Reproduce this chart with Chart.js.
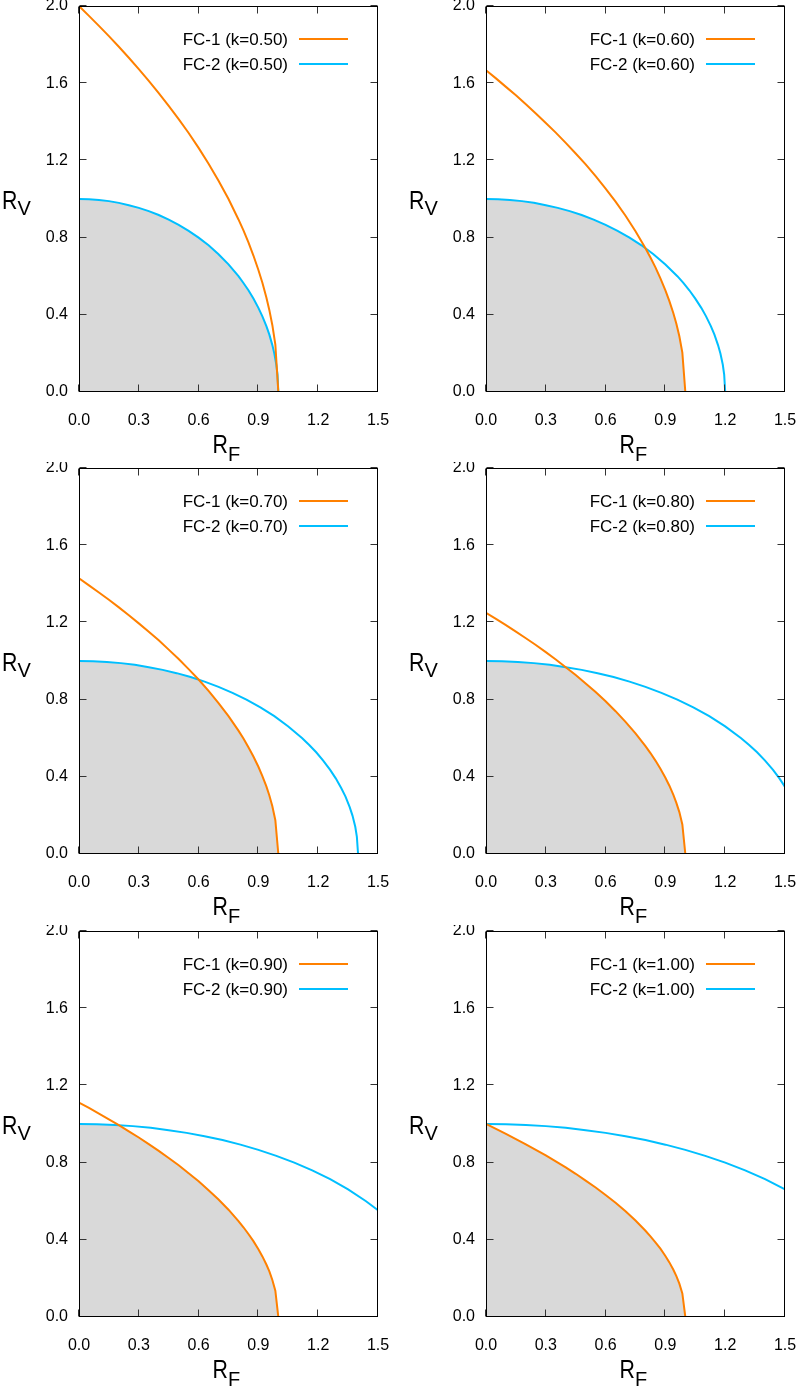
<!DOCTYPE html>
<html><head><meta charset="utf-8">
<script src="https://cdn.jsdelivr.net/npm/chart.js@4.4.1/dist/chart.umd.min.js"></script>
<style>
html,body{margin:0;padding:0;background:#fff;width:800px;height:1389px;overflow:hidden}
.p{position:absolute;width:400px;height:462px}
canvas{display:block}
</style></head><body>
<div class="p" style="left:0;top:0"><canvas id="c0" width="400" height="462"></canvas></div>
<div class="p" style="left:407px;top:0"><canvas id="c1" width="400" height="462"></canvas></div>
<div class="p" style="left:0;top:462px"><canvas id="c2" width="400" height="462"></canvas></div>
<div class="p" style="left:407px;top:462px"><canvas id="c3" width="400" height="462"></canvas></div>
<div class="p" style="left:0;top:925px"><canvas id="c4" width="400" height="462"></canvas></div>
<div class="p" style="left:407px;top:925px"><canvas id="c5" width="400" height="462"></canvas></div>
<script>
// ---- data ----
const kLabels = ['0.50','0.60','0.70','0.80','0.90','1.00'];
const xTicks = [0, 0.3, 0.6, 0.9, 1.2, 1.5];
const yTicks = [0, 0.4, 0.8, 1.2, 1.6, 2.0];
const xTickLabels = ['0.0','0.3','0.6','0.9','1.2','1.5'];
const yTickLabels = ['0.0','0.4','0.8','1.2','1.6','2.0'];

// FC-1 curves (shared R_F sample points)
const fc1X = [0,0.05,0.1,0.15,0.2,0.25,0.3,0.35,0.4,0.45,0.5,0.55,0.6,0.65,0.7,0.75,0.8,0.825,0.85,0.875,0.9,0.92,0.94,0.955,0.97,0.985,1.0];
const fc1Y_k050 = [2.000,1.949,1.897,1.844,1.789,1.732,1.673,1.612,1.549,1.483,1.414,1.342,1.265,1.183,1.095,1.000,0.894,0.837,0.775,0.707,0.632,0.566,0.490,0.424,0.346,0.245,0];
const fc1Y_k060 = [1.667,1.625,1.581,1.537,1.491,1.443,1.394,1.344,1.291,1.236,1.179,1.118,1.054,0.986,0.913,0.833,0.745,0.697,0.646,0.589,0.527,0.471,0.408,0.354,0.289,0.204,0];
const fc1Y_k070 = [1.429,1.392,1.355,1.317,1.278,1.237,1.195,1.152,1.107,1.059,1.010,0.958,0.904,0.845,0.782,0.714,0.639,0.598,0.553,0.505,0.452,0.404,0.350,0.303,0.247,0.175,0];
const fc1Y_k080 = [1.250,1.218,1.186,1.152,1.118,1.083,1.046,1.008,0.968,0.927,0.884,0.839,0.791,0.740,0.685,0.625,0.559,0.523,0.484,0.442,0.395,0.354,0.306,0.265,0.217,0.153,0];
const fc1Y_k090 = [1.111,1.083,1.054,1.024,0.994,0.962,0.930,0.896,0.861,0.824,0.786,0.745,0.703,0.657,0.609,0.556,0.497,0.465,0.430,0.393,0.351,0.314,0.272,0.236,0.192,0.136,0];
const fc1Y_k100 = [1.000,0.975,0.949,0.922,0.894,0.866,0.837,0.806,0.775,0.742,0.707,0.671,0.632,0.592,0.548,0.500,0.447,0.418,0.387,0.354,0.316,0.283,0.245,0.212,0.173,0.122,0];

// FC-2 curves
const fc2X_k050 = [0,0.05,0.1,0.15,0.2,0.25,0.3,0.35,0.4,0.45,0.5,0.55,0.6,0.65,0.7,0.75,0.8,0.825,0.85,0.875,0.9,0.92,0.94,0.955,0.97,0.98,0.99,0.996,1.0];
const fc2Y_k050 = [1,0.999,0.995,0.989,0.980,0.968,0.954,0.937,0.917,0.893,0.866,0.835,0.800,0.760,0.714,0.661,0.600,0.565,0.527,0.484,0.436,0.392,0.341,0.297,0.243,0.199,0.141,0.089,0];
const fc2X_k060 = [0,0.06,0.12,0.18,0.24,0.30,0.36,0.42,0.48,0.54,0.60,0.66,0.72,0.78,0.84,0.90,0.96,0.99,1.02,1.05,1.08,1.104,1.128,1.146,1.164,1.176,1.188,1.195,1.2];
const fc2Y_k060 = [1,0.999,0.995,0.989,0.980,0.968,0.954,0.937,0.917,0.893,0.866,0.835,0.800,0.760,0.714,0.661,0.600,0.565,0.527,0.484,0.436,0.392,0.341,0.297,0.243,0.199,0.141,0.089,0];
const fc2X_k070 = [0,0.07,0.14,0.21,0.28,0.35,0.42,0.49,0.56,0.63,0.70,0.77,0.84,0.91,0.98,1.05,1.12,1.155,1.19,1.225,1.26,1.288,1.316,1.337,1.358,1.372,1.386,1.394,1.4];
const fc2Y_k070 = [1,0.999,0.995,0.989,0.980,0.968,0.954,0.937,0.917,0.893,0.866,0.835,0.800,0.760,0.714,0.661,0.600,0.565,0.527,0.484,0.436,0.392,0.341,0.297,0.243,0.199,0.141,0.089,0];
const fc2X_k080 = [0,0.08,0.16,0.24,0.32,0.40,0.48,0.56,0.64,0.72,0.80,0.88,0.96,1.04,1.12,1.20,1.28,1.32,1.36,1.40,1.44,1.472,1.5];
const fc2Y_k080 = [1,0.999,0.995,0.989,0.980,0.968,0.954,0.937,0.917,0.893,0.866,0.835,0.800,0.760,0.714,0.661,0.600,0.565,0.527,0.484,0.436,0.392,0.348];
const fc2X_k090 = [0,0.09,0.18,0.27,0.36,0.45,0.54,0.63,0.72,0.81,0.90,0.99,1.08,1.17,1.26,1.35,1.44,1.485,1.5];
const fc2Y_k090 = [1,0.999,0.995,0.989,0.980,0.968,0.954,0.937,0.917,0.893,0.866,0.835,0.800,0.760,0.714,0.661,0.600,0.565,0.553];
const fc2X_k100 = [0,0.1,0.2,0.3,0.4,0.5,0.6,0.7,0.8,0.9,1.0,1.1,1.2,1.3,1.4,1.5];
const fc2Y_k100 = [1,0.999,0.995,0.989,0.980,0.968,0.954,0.937,0.917,0.893,0.866,0.835,0.800,0.760,0.714,0.661];

// shaded region (below both curves)
const shadeX_k050 = fc2X_k050;
const shadeY_k050 = fc2Y_k050;
const shadeX_k060 = [0,0.06,0.12,0.18,0.24,0.30,0.36,0.42,0.48,0.54,0.60,0.66,0.72,0.78,0.8,0.825,0.85,0.875,0.9,0.92,0.94,0.955,0.97,0.985,1.0];
const shadeY_k060 = [1,0.999,0.995,0.989,0.980,0.968,0.954,0.937,0.917,0.893,0.866,0.835,0.800,0.760,0.745,0.697,0.646,0.589,0.527,0.471,0.408,0.354,0.289,0.204,0];
const shadeX_k070 = [0,0.07,0.14,0.21,0.28,0.35,0.42,0.49,0.56,0.6,0.65,0.7,0.75,0.8,0.825,0.85,0.875,0.9,0.92,0.94,0.955,0.97,0.985,1.0];
const shadeY_k070 = [1,0.999,0.995,0.989,0.980,0.968,0.954,0.937,0.917,0.904,0.845,0.782,0.714,0.639,0.598,0.553,0.505,0.452,0.404,0.350,0.303,0.247,0.175,0];
const shadeX_k080 = [0,0.08,0.16,0.24,0.32,0.4,0.45,0.5,0.55,0.6,0.65,0.7,0.75,0.8,0.825,0.85,0.875,0.9,0.92,0.94,0.955,0.97,0.985,1.0];
const shadeY_k080 = [1,0.999,0.995,0.989,0.980,0.968,0.927,0.884,0.839,0.791,0.740,0.685,0.625,0.559,0.523,0.484,0.442,0.395,0.354,0.306,0.265,0.217,0.153,0];
const shadeX_k090 = [0,0.09,0.18,0.2,0.25,0.3,0.35,0.4,0.45,0.5,0.55,0.6,0.65,0.7,0.75,0.8,0.825,0.85,0.875,0.9,0.92,0.94,0.955,0.97,0.985,1.0];
const shadeY_k090 = [1,0.999,0.995,0.994,0.962,0.930,0.896,0.861,0.824,0.786,0.745,0.703,0.657,0.609,0.556,0.497,0.465,0.430,0.393,0.351,0.314,0.272,0.236,0.192,0.136,0];
const shadeX_k100 = fc1X;
const shadeY_k100 = fc1Y_k100;

const panels = [
  {k:kLabels[0], f1:fc1Y_k050, f2x:fc2X_k050, f2y:fc2Y_k050, sx:shadeX_k050, sy:shadeY_k050},
  {k:kLabels[1], f1:fc1Y_k060, f2x:fc2X_k060, f2y:fc2Y_k060, sx:shadeX_k060, sy:shadeY_k060},
  {k:kLabels[2], f1:fc1Y_k070, f2x:fc2X_k070, f2y:fc2Y_k070, sx:shadeX_k070, sy:shadeY_k070},
  {k:kLabels[3], f1:fc1Y_k080, f2x:fc2X_k080, f2y:fc2Y_k080, sx:shadeX_k080, sy:shadeY_k080},
  {k:kLabels[4], f1:fc1Y_k090, f2x:fc2X_k090, f2y:fc2Y_k090, sx:shadeX_k090, sy:shadeY_k090},
  {k:kLabels[5], f1:fc1Y_k100, f2x:fc2X_k100, f2y:fc2Y_k100, sx:shadeX_k100, sy:shadeY_k100}
];

// ---- styles ----
const ORANGE = '#ff8000';
const BLUE = '#00bfff';
const GRAY = '#d9d9d9';
const FONT = '"Liberation Sans", Arial, Helvetica, sans-serif';

const pts = (xs, ys) => xs.map((x, i) => ({x: x, y: ys[i]}));

function drawSub(ctx, main, sub, x, yBase, subDrop) {
  // main letter: slightly condensed, as in the reference
  ctx.save();
  ctx.font = '26px ' + FONT;
  ctx.translate(x, yBase);
  ctx.scale(0.82, 1);
  ctx.fillText(main, 0, 0);
  const w = ctx.measureText(main).width * 0.82;
  ctx.restore();
  ctx.save();
  ctx.font = '20px ' + FONT;
  ctx.fillText(sub, x + w, yBase + subDrop);
  ctx.restore();
}

const deco = {
  id: 'deco',
  afterDraw(chart) {
    const {ctx, chartArea: a, scales: {x, y}} = chart;
    const k = chart.options.plugins.deco.k;
    ctx.save();
    const L = Math.floor(a.left) + 0.5, R = Math.floor(a.right) - 0.5;
    const T = Math.floor(a.top) + 0.5, B = Math.floor(a.bottom) - 0.5;
    // inward mirrored ticks
    ctx.strokeStyle = '#333';
    ctx.lineWidth = 1;
    ctx.beginPath();
    const tl = 7;
    xTicks.forEach(v => {
      const px = Math.round(x.getPixelForValue(v)) - 0.5;
      ctx.moveTo(px, B); ctx.lineTo(px, B - tl);
      ctx.moveTo(px, T); ctx.lineTo(px, T + tl);
    });
    yTicks.forEach(v => {
      const py = Math.round(y.getPixelForValue(v)) - 0.5;
      ctx.moveTo(L, py); ctx.lineTo(L + tl, py);
      ctx.moveTo(R, py); ctx.lineTo(R - tl, py);
    });
    ctx.stroke();
    // border
    ctx.strokeStyle = '#000';
    ctx.strokeRect(L, T, R - L, B - T);
    // legend
    ctx.font = '17px ' + FONT;
    ctx.fillStyle = '#000';
    ctx.textAlign = 'right';
    ctx.textBaseline = 'middle';
    const rows = [['FC-1 (k=' + k + ')', ORANGE], ['FC-2 (k=' + k + ')', BLUE]];
    rows.forEach((r, i) => {
      const yy = a.top + 33 + i * 25;
      ctx.fillText(r[0], a.right - 90, yy + 1);
      ctx.strokeStyle = r[1];
      ctx.lineWidth = 2;
      ctx.beginPath();
      ctx.moveTo(a.right - 79, yy);
      ctx.lineTo(a.right - 30, yy);
      ctx.stroke();
    });
    // axis titles with subscripts
    ctx.fillStyle = '#000';
    ctx.textAlign = 'left';
    ctx.textBaseline = 'alphabetic';
    const yc = (a.top + a.bottom) / 2;
    drawSub(ctx, 'R', 'V', 2, yc + 10, 6);
    const xc = (a.left + a.right) / 2;
    drawSub(ctx, 'R', 'F', xc - 16, a.bottom + 61, 8);
    ctx.restore();
  }
};

panels.forEach((p, i) => {
  new Chart(document.getElementById('c' + i), {
    type: 'line',
    data: {
      datasets: [
        {label: 'FC-1 (k=' + p.k + ')', data: pts(fc1X, p.f1), borderColor: ORANGE, borderWidth: 2, pointRadius: 0, fill: false, order: 0, tension: 0},
        {label: 'FC-2 (k=' + p.k + ')', data: pts(p.f2x, p.f2y), borderColor: BLUE, borderWidth: 2, pointRadius: 0, fill: false, order: 1, tension: 0},
        {label: 'region', data: pts(p.sx, p.sy), borderColor: 'rgba(0,0,0,0)', backgroundColor: GRAY, borderWidth: 1, pointRadius: 0, fill: 'origin', order: 2, tension: 0}
      ]
    },
    options: {
      responsive: false,
      animation: false,
      devicePixelRatio: 1,
      events: [],
      layout: {padding: {left: 0, right: 22, top: 6, bottom: 0}},
      plugins: {legend: {display: false}, tooltip: {enabled: false}, deco: {k: p.k}},
      scales: {
        x: {
          type: 'linear', min: 0, max: 1.5,
          grid: {display: false, drawTicks: false}, border: {display: false},
          afterBuildTicks: s => { s.ticks = xTicks.map(v => ({value: v})); },
          ticks: {autoSkip: false, maxRotation: 0, padding: 19, color: '#000', font: {family: FONT, size: 16},
                  callback: (v) => xTickLabels[xTicks.indexOf(v)]},
          afterFit: s => { s.height = 70; s.paddingLeft = 0; s.paddingRight = 0; s.paddingTop = 0; s.paddingBottom = 0; }
        },
        y: {
          type: 'linear', min: 0, max: 2,
          grid: {display: false, drawTicks: false}, border: {display: false},
          afterBuildTicks: s => { s.ticks = yTicks.map(v => ({value: v})); },
          ticks: {autoSkip: false, padding: 11, color: '#000', font: {family: FONT, size: 16},
                  callback: (v) => yTickLabels[yTicks.indexOf(v)]},
          afterFit: s => { s.width = 79; s.paddingLeft = 0; s.paddingRight = 0; s.paddingTop = 0; s.paddingBottom = 0; }
        }
      }
    },
    plugins: [deco]
  });
});
</script>
</body></html>
